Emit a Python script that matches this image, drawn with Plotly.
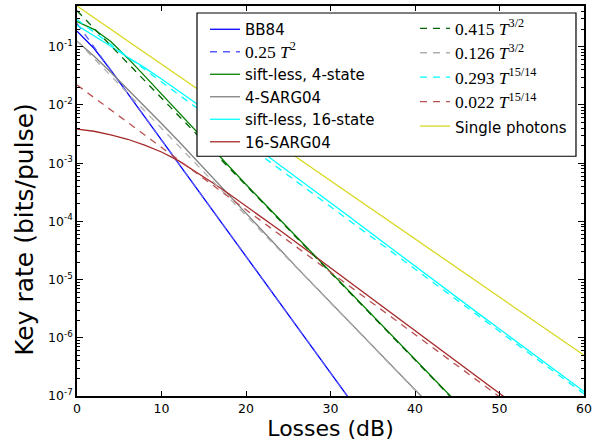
import plotly.graph_objects as go

# Channel loss grid (dB) for the computed key-rate curves
loss_db = [0, 2, 4, 6, 8, 10, 12, 14, 16, 18, 20, 22, 24, 26, 28, 30,
           32, 34, 36, 38, 40, 42, 44, 46, 48, 50, 52, 54, 56, 58, 60]

# Key rates (bits/pulse) for each protocol, sampled on loss_db
bb84 = [0.185, 0.094, 0.0396, 0.0158, 0.00628, 0.0025, 9.95e-4, 3.96e-4,
        1.58e-4, 6.28e-5, 2.5e-5, 9.95e-6, 3.96e-6, 1.58e-6, 6.28e-7,
        2.5e-7, 9.95e-8, 3.96e-8]
siftless_4 = [0.270, 0.199, 0.1225, 0.0635, 0.0315, 0.01542, 0.00755,
              0.00361, 0.00175, 8.67e-4, 4.30e-4, 2.15e-4, 1.079e-4,
              5.37e-5, 2.69e-5, 1.343e-5, 6.73e-6, 3.37e-6, 1.69e-6,
              8.47e-7, 4.25e-7, 2.13e-7, 1.067e-7, 5.35e-8]
sarg04_4 = [0.124, 0.0692, 0.0363, 0.0186, 0.00955, 0.00479, 0.0024,
            0.001175, 5.69e-4, 2.75e-4, 1.349e-4, 6.61e-5, 3.27e-5,
            1.622e-5, 8.09e-6, 4.06e-6, 2.03e-6, 1.019e-6, 5.11e-7,
            2.56e-7, 1.282e-7, 6.43e-8]
siftless_16 = [0.233, 0.156, 0.1019, 0.0659, 0.0437, 0.0279, 0.0176,
               0.01089, 0.00673, 0.0041, 0.00252, 0.00155, 9.46e-4,
               5.77e-4, 3.50e-4, 2.10e-4, 1.268e-4, 7.66e-5, 4.62e-5,
               2.79e-5, 1.683e-5, 1.028e-5, 6.24e-6, 3.79e-6, 2.31e-6,
               1.413e-6, 8.63e-7, 5.26e-7, 3.21e-7, 1.963e-7, 1.197e-7]
sarg04_16 = [3.85e-3, 3.53e-3, 3.05e-3, 2.57e-3, 2.04e-3, 1.552e-3,
             1.102e-3, 7.28e-4, 4.66e-4, 2.94e-4, 1.841e-4, 1.135e-4,
             7.01e-5, 4.29e-5, 2.61e-5, 1.596e-5, 9.68e-6, 5.89e-6,
             3.55e-6, 2.15e-6, 1.309e-6, 7.94e-7, 4.85e-7, 2.96e-7,
             1.811e-7, 1.104e-7, 6.75e-8]

# Single-photon reference line, sampled every 10 dB
single_db = [0, 10, 20, 30, 40, 50, 60]
single_photons = [0.5, 0.05, 5e-3, 5e-4, 5e-5, 5e-6, 5e-7]

# Asymptotic fits  a * T^p  (T = channel transmittance)
fit_coef = [0.25, 0.415, 0.126, 0.293, 0.022]
fit_exp = [2.0, 1.5, 1.5, 15 / 14, 15 / 14]
fit_exp_text = ["2", "3/2", "3/2", "15/14", "15/14"]

fit_grid = [0, 60]

SERIF = "'Liberation Serif', 'DejaVu Serif', serif"
FONT = "DejaVu Sans, Liberation Sans, sans-serif"


def fit_label(a, p):
    return (f"<span style=\"font-family:{SERIF};font-size:17.5px\">"
            f"{a:g} <i>T</i><sup>{p}</sup></span>")


def fit_values(a, p, grid):
    return [a * (10 ** (-x / 10)) ** p for x in grid]


fig = go.Figure()


def solid(name, y, color, legend="legend"):
    fig.add_trace(go.Scatter(
        x=loss_db[:len(y)], y=y, mode="lines", name=name, legend=legend,
        line=dict(color=color, width=1.3)))


def dashed(i, color, legend):
    fig.add_trace(go.Scatter(
        x=fit_grid, y=fit_values(fit_coef[i], fit_exp[i], fit_grid),
        mode="lines", name=fit_label(fit_coef[i], fit_exp_text[i]),
        legend=legend,
        line=dict(color=color, width=1.3, dash="7px,6px")))


solid("BB84", bb84, "#0000ff")
dashed(0, "#5a5aff", "legend")
solid("sift-less, 4-state", siftless_4, "#008000")
solid("4-SARG04", sarg04_4, "#808080")
solid("sift-less, 16-state", siftless_16, "#00ffff")
solid("16-SARG04", sarg04_16, "#a52a2a")
dashed(1, "#006400", "legend2")
dashed(2, "#b0b0b0", "legend2")
dashed(3, "#00ffff", "legend2")
dashed(4, "#b85050", "legend2")
fig.add_trace(go.Scatter(
    x=single_db, y=single_photons, mode="lines",
    name="<span style=\"font-size:15px\">Single photons</span>",
    legend="legend2", line=dict(color="#d8d820", width=1.3)))

exps = [-7, -6, -5, -4, -3, -2, -1]

legend_common = dict(
    orientation="v", yanchor="top", xanchor="left",
    bgcolor="rgba(0,0,0,0)", borderwidth=0,
    traceorder="normal", itemwidth=30,
)

fig.update_layout(
    width=605, height=446,
    margin=dict(l=77, r=21, t=4, b=50),
    paper_bgcolor="white", plot_bgcolor="white",
    font=dict(family=FONT, size=12, color="black"),
    showlegend=True,
    legend=dict(x=0.2525, y=0.982,
                font=dict(family=FONT, size=15, color="black"),
                **legend_common),
    legend2=dict(x=0.6667, y=0.987,
                 font=dict(family=FONT, size=16.5, color="black"),
                 **legend_common),
    # frame behind the two legend columns
    shapes=[dict(type="rect", xref="paper", yref="paper", layer="above",
                 x0=0.2367, x1=0.9842, y0=0.6148, y1=0.9821,
                 fillcolor="white", line=dict(color="black", width=1.2))],
    # vertical axis title
    annotations=[dict(text="Key rate (bits/pulse)", textangle=-90,
                      xref="paper", yref="paper", x=-0.1026, y=0.4286,
                      xanchor="center", yanchor="middle", showarrow=False,
                      font=dict(family=FONT, size=25, color="black"))],
    xaxis=dict(
        range=[0, 60], tickvals=[0, 10, 20, 30, 40, 50, 60],
        ticks="inside", ticklen=5, tickwidth=1, tickcolor="black",
        showline=True, linecolor="black", linewidth=1.5, mirror="allticks",
        showgrid=False, zeroline=False,
        tickfont=dict(size=12.5),
        title=dict(text="Losses (dB)", font=dict(size=22), standoff=6),
    ),
    yaxis=dict(
        type="log", range=[-7, 0.69897 - 1],
        tickvals=[10 ** e for e in exps],
        ticktext=[f"10<sup>{e}</sup>" for e in exps],
        ticks="inside", ticklen=6, tickwidth=1, tickcolor="black",
        minor=dict(ticks="inside", ticklen=3, dtick="D1", tickcolor="black",
                   showgrid=False),
        showline=True, linecolor="black", linewidth=1.5, mirror="allticks",
        showgrid=False, zeroline=False,
        tickfont=dict(size=12.5),
    ),
)

fig.write_html("out.html")
